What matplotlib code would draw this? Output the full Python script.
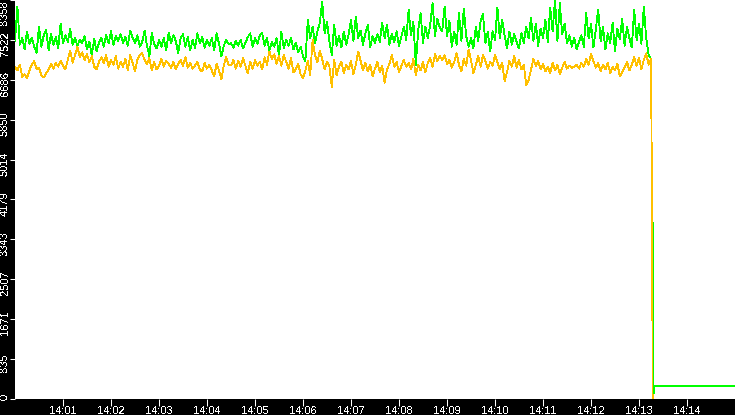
import matplotlib
matplotlib.use("Agg")
import matplotlib.pyplot as plt
import matplotlib.transforms as mtransforms
import numpy as np

plt.rcParams["text.antialiased"] = False

# samples every 3 s starting 14:00:00
green = [
    7500, 8220, 7420, 7560, 7330, 7700, 7440, 7560, 7380, 7250,
    7800, 7380, 7620, 7730, 7300, 7650, 7420, 7580, 7350, 7860,
    7460, 7620, 7480, 7750, 7420, 7560, 7400, 7520, 7460, 7600,
    7320, 7480, 7200, 7540, 7280, 7460, 7560, 7380, 7620, 7450,
    7700, 7420, 7600, 7500, 7640, 7460, 7580, 7400, 7720, 7560,
    7460, 7620, 7380, 7480, 7720, 7400, 7180, 7660, 7440, 7340,
    7520, 7380, 7560, 7300, 7670, 7460, 7620, 7500, 7240, 7560,
    7640, 7380, 7580, 7300, 7520, 7360, 7660, 7450, 7580, 7360,
    7520, 7400, 7560, 7300, 7660, 7440, 7180, 7400, 7520, 7440,
    7450, 7360, 7500, 7400, 7520, 7340, 7460, 7580, 7660, 7380,
    7560, 7440, 7620, 7660, 7400, 7560, 7300, 7480, 7380, 7560,
    7200, 7690, 7340, 7520, 7400, 7560, 7320, 7460, 7260, 7380,
    7180, 7080, 7940, 7560, 7800, 7460, 7700, 7880, 8320, 7660,
    7900, 7500, 7200, 7840, 7400, 7600, 7360, 7700, 7420, 7640,
    7940, 7500, 8010, 7560, 7720, 7420, 7660, 7840, 7380, 7600,
    7460, 7640, 7480, 7880, 7560, 7840, 7420, 7640, 7480, 7700,
    7400, 7600, 7800, 7520, 8150, 7620, 7900, 7000, 7720, 8080,
    7460, 7800, 7560, 7840, 8290, 7600, 7960, 7780, 7700,
    8220, 7600, 7920, 7380, 7700, 7420, 8080, 7500, 8180, 7600,
    7380, 7560, 7340, 7800, 7500, 7920, 8060, 7460, 7680, 7280,
    7700, 7520, 8200, 7560, 7940, 7620, 7340, 7700, 7420, 7640,
    7480, 7340, 7660, 7460, 7800, 7560, 7980, 7500, 7860, 7400,
    7760, 7560, 7940, 7480, 8200, 7700, 8358, 7500, 8290, 7640,
    7860, 7460, 7620, 7380, 7560, 7320, 7480, 7620, 7380, 8080,
    7560, 7860, 7360, 7740, 8160, 7500, 7800, 7320, 7660, 7460,
    7880, 7280, 7760, 7540, 7960, 7400, 7800, 7560, 7360, 8160,
    7520, 7860, 7440, 8220, 7560, 7220, 7120,
]

orange = [
    6960, 6880, 7000, 6750, 6800, 6720, 6880, 7000, 7080, 6900,
    6940, 6780, 6740, 6820, 6900, 7020, 6920, 7040, 6960, 7080,
    6980, 6900, 7100, 7300, 7040, 7200, 7380, 7160, 7260, 7100,
    7220, 7060, 7180, 6960, 6900, 7060, 7160, 7040, 7200, 6960,
    7100, 7000, 7180, 6920, 7060, 6960, 7120, 6880, 7200, 7040,
    6860, 7100, 7200, 7240, 7100, 7020, 7140, 6880, 7060, 6900,
    6980, 7120, 6960, 7080, 7020, 6940, 7060, 6900, 7020, 7100,
    6980, 7160, 6940, 7040, 6920, 6980, 7060, 6900, 6860, 7040,
    6920, 7000, 6880, 6760, 7020, 6880, 6700, 6980, 7160, 7000,
    6990, 7100, 6920, 7080, 6960, 7140, 6980, 6820, 7060, 6920,
    7100, 6980, 7060, 6900, 7160, 7000, 7280, 7120, 7220, 7020,
    7180, 6980, 7200, 7060, 6920, 7140, 6840, 6900, 7020, 6800,
    6720, 6880, 7080, 6780, 7520, 7200, 7060, 7300, 7120, 6900,
    7060, 6960, 6540, 7100, 6780, 6960, 7060, 6820, 7000, 6900,
    7080, 6800, 7000, 7280, 7080, 6880, 7040, 6860, 7000, 6760,
    6920, 7060, 6840, 6980, 6620, 6900, 7020, 7200, 6960, 7060,
    6840, 6980, 7100, 6960, 7040, 6900, 7120, 6780, 7000, 6880,
    7060, 6840, 7040, 7140, 6960, 7220, 7080, 7180, 7100,
    7200, 7020, 7100, 6940, 7060, 7240, 7000, 6860, 7120, 6980,
    7320, 7100, 6820, 7000, 7180, 6960, 7200, 7080, 6920, 7060,
    6980, 7200, 7060, 6900, 7040, 6660, 6840, 7080, 6960, 7180,
    6940, 7100, 6900, 7000, 6580, 6680, 6900, 7120, 6980, 7080,
    6900, 7020, 6860, 6960, 6820, 7040, 6880, 7000, 6800, 6940,
    7060, 6920, 6980, 6940, 6960, 7000, 6920, 7040, 6960, 7120,
    7000, 7220, 7080, 6940, 7040, 6860, 7000, 6900, 7040, 6820,
    6960, 6880, 7020, 6760, 6840, 6940, 7060, 6880, 7000, 7160,
    6980, 7140, 6900, 7100, 7240, 7000, 7120,
]

# the drop at the end (seconds after 14:00)
green_tail_t = [796.5, 797.0, 797.0, 797.8, 798.6, 798.6, 900]
green_tail = [3550, 3700, 3530, 126, 126, 267, 267]
orange_tail_t = [796.5, 797.0]
orange_tail = [3550, 0]

yticks = [0, 835, 1671, 2507, 3343, 4179, 5014, 5850, 6686, 7522, 8358]
xtick_labels = ["14:01", "14:02", "14:03", "14:04", "14:05", "14:06", "14:07",
                "14:08", "14:09", "14:10", "14:11", "14:12", "14:13", "14:14"]

t = np.arange(len(green)) * 3
tg = np.concatenate([t, green_tail_t])
vg = np.concatenate([green, green_tail])
to = np.concatenate([t, orange_tail_t])
vo = np.concatenate([orange, orange_tail])

fig = plt.figure(figsize=(7.35, 4.15), dpi=100, facecolor="black")
ax = fig.add_axes([15 / 735, 16.3 / 415, 720 / 735, 398.7 / 415])
ax.set_facecolor("white")

ax.plot(tg, vg, color="#00ff00", lw=0.6, antialiased=False)
ax.plot(to, vo, color="#ffc000", lw=0.6, antialiased=False)

ax.set_xlim(0, 900)
ax.set_ylim(0, 8358)
ax.set_yticks(yticks)
ax.set_yticklabels([str(v) for v in yticks], rotation=90, va="center", ha="center",
                   fontsize=8, family="Liberation Sans", color="white")
ax.set_xticks([60 * (i + 1) for i in range(len(xtick_labels))])
ax.set_xticklabels(xtick_labels, fontsize=8, family="Liberation Sans", color="white")
ax.tick_params(axis="y", colors="white", length=3.6, width=0.75, pad=0)
ax.tick_params(axis="x", colors="white", length=4.7, width=0.75, pad=0.2)
for s in ax.spines.values():
    s.set_visible(False)

# rotated labels: centred in the left strip, a little below their ticks;
# the end labels are kept inside the figure
labs = ax.get_yticklabels()
for i, lab in enumerate(labs):
    dy = -4
    if i == 0:
        lab.set_verticalalignment("bottom")
        dy = -1.3
    elif i == len(labs) - 1:
        lab.set_verticalalignment("top")
        dy = 0
    lab.set_horizontalalignment("center")
    lab.set_transform(ax.get_yaxis_transform() + mtransforms.ScaledTranslation(
        -10 / 100, dy / 100, fig.dpi_scale_trans))
    lab.set_x(0)

fig.savefig("out.png", dpi=100, facecolor="black")
